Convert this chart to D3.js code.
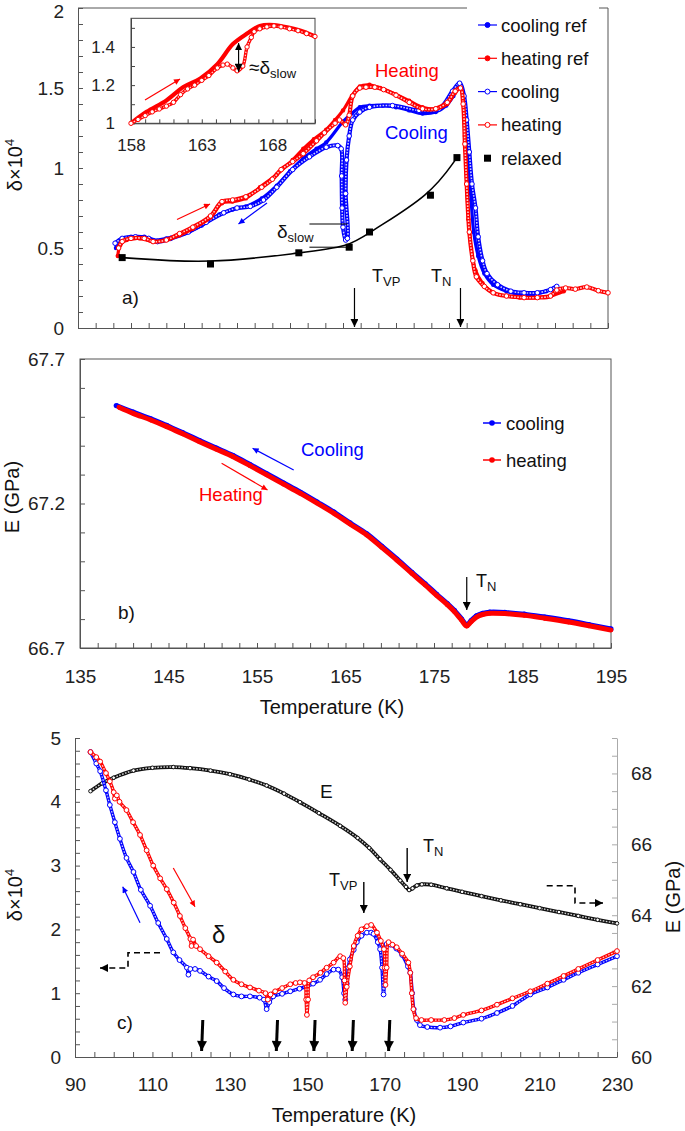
<!DOCTYPE html>
<html lang="en">
<head>
<meta charset="UTF-8">
<title>Internal friction and Young's modulus</title>
<script src="https://d3js.org/d3.v7.min.js"></script>
<style>
  body { margin: 0; background: #fff; }
  svg text { font-family: "Liberation Sans", Arial, sans-serif; }
  .tick text { font-size: 19px; fill: #222; }
</style>
</head>
<body>
<div id="chart"></div>
<script>
// tick labels
const aYLabels = [0, 0.5, 1, 1.5, 2];
const bYLabels = [66.7, 67.2, 67.7];
const bXLabels = [135, 145, 155, 165, 175, 185, 195];
const insetXLabels = [158, 163, 168];
const insetYLabels = [1, 1.2, 1.4];
const cXLabels = [90, 110, 130, 150, 170, 190, 210, 230];
const cYLabels = [0, 1, 2, 3, 4, 5];
const cRLabels = [60, 62, 64, 66, 68];

// ---------- panel a: [T (K), delta x 10^4] ----------
const coolRef = [[139.3,0.50],[139.8,0.55],[141,0.57],[142.5,0.57],[143.5,0.55],[145,0.56],[147,0.59],[149,0.64],[151,0.71],[152.5,0.74],[154,0.76],[155.8,0.81],[157.5,0.89],[159,0.98],[160.5,1.06],[162,1.12],[163.1,1.16],[165,1.29],[166,1.34],[166.9,1.38],[168,1.39],[169.5,1.39],[171,1.38],[172.5,1.36],[174,1.34],[175.5,1.35],[176.7,1.39],[177.5,1.45],[178.2,1.52],[178.6,1.45],[178.9,1.25],[179.2,1.00],[179.5,0.80],[179.8,0.60],[180.3,0.45],[181,0.34],[182,0.27],[183.5,0.23],[185,0.21],[186.5,0.21],[188,0.23],[189.2,0.26]];

const cool = [[139.2,0.53],[140,0.56],[141.5,0.57],[143,0.56],[144,0.54],[145.5,0.56],[147.5,0.60],[149.5,0.66],[151.5,0.72],[153,0.75],[154.5,0.76],[156,0.80],[157.5,0.88],[159.3,0.99],[161.2,1.07],[163.1,1.13],[164.4,1.14],[164.8,1.12],[164.85,0.95],[164.9,0.75],[165.0,0.63],[165.3,0.55],[165.5,0.56],[165.3,0.84],[165.4,1.05],[165.7,1.2],[166.1,1.3],[166.9,1.35],[168,1.38],[170.6,1.39],[173.6,1.36],[175.9,1.37],[177.4,1.48],[178.2,1.53],[178.7,1.45],[179.0,1.30],[179.3,1.10],[179.6,0.90],[180.0,0.75],[180.3,0.57],[180.8,0.42],[181.3,0.34],[182.5,0.27],[184,0.23],[185.5,0.22],[187,0.22],[188.5,0.24],[189.2,0.26]];

const heatRef = [[139.5,0.45],[139.8,0.52],[140.5,0.55],[142,0.56],[143.5,0.54],[145,0.55],[146.5,0.58],[148,0.62],[150,0.69],[151.3,0.78],[152.5,0.79],[154,0.81],[155.6,0.88],[157.5,0.96],[159.3,1.05],[160.5,1.12],[161.7,1.18],[163.1,1.24],[164.1,1.30],[165,1.36],[166,1.45],[166.9,1.51],[168,1.52],[169.2,1.50],[171,1.46],[172.5,1.42],[174,1.38],[175.5,1.37],[176.8,1.40],[177.7,1.47],[178.3,1.50],[178.6,1.42],[178.8,1.20],[179.0,0.90],[179.2,0.68],[179.5,0.50],[180,0.36],[180.8,0.28],[182,0.22],[183.5,0.20],[185,0.19],[187,0.19],[188.5,0.20],[190,0.23]];

const heat = [[139.6,0.50],[140,0.54],[141,0.56],[142.5,0.56],[143.5,0.54],[145,0.55],[146.5,0.59],[148,0.63],[150,0.70],[151.3,0.79],[152.5,0.80],[154,0.82],[155.8,0.88],[157,0.93],[158,0.99],[159.3,1.04],[160.5,1.09],[162,1.17],[162.9,1.22],[164.1,1.28],[164.6,1.30],[165.3,1.27],[165.7,1.33],[166.1,1.45],[166.9,1.50],[167.6,1.505],[168.6,1.505],[169.6,1.49],[171,1.455],[172.5,1.41],[174,1.37],[175.5,1.37],[176.8,1.41],[177.7,1.48],[178.3,1.50],[178.6,1.40],[178.8,1.15],[179.0,0.90],[179.3,0.60],[179.7,0.42],[180.1,0.32],[181,0.26],[182,0.22],[183.5,0.20],[185.5,0.19],[187,0.19],[188.5,0.20],[189.2,0.237],[190.2,0.25],[191.3,0.243],[192.6,0.256],[193.9,0.233],[195,0.22]];

const relaxed = [[140,0.44],[150,0.40],[160,0.47],[165.7,0.505],[168,0.60],[174.9,0.83],[177.9,1.065]];

const insetRef = [[158,1.0],[159.1,1.06],[160.5,1.12],[161.7,1.19],[162.9,1.235],[164.1,1.31],[165.2,1.415],[166.2,1.47],[167.1,1.51],[168.1,1.515],[169.2,1.5],[170.2,1.48],[171,1.455]];
const insetOpen = [[158,1.0],[158.5,1.02],[159,1.04],[159.5,1.06],[160,1.075],[160.5,1.09],[161,1.11],[161.5,1.15],[162,1.18],[162.5,1.2],[163,1.225],[163.5,1.25],[164.1,1.29],[164.5,1.305],[164.8,1.31],[165.2,1.29],[165.5,1.275],[165.9,1.3],[166.2,1.4],[166.5,1.45],[166.7,1.48],[167.1,1.495],[167.6,1.505],[168.1,1.51],[168.6,1.505],[169.2,1.495],[169.8,1.485],[170.4,1.47],[171,1.455]];

// ---------- panel b: [T (K), E (GPa)] ----------
const bCool = [[139.1,67.539],[141,67.516],[143,67.493],[144.8,67.470],[146.6,67.445],[148.5,67.418],[150.4,67.392],[152.3,67.366],[154.2,67.335],[156.1,67.303],[158,67.271],[159.9,67.239],[161.8,67.205],[163.7,67.170],[165.5,67.133],[167.4,67.095],[169.1,67.052],[170.8,67.008],[172.5,66.962],[174,66.922],[175.3,66.886],[176.5,66.854],[177.3,66.830],[178.1,66.801],[178.7,66.780],[179.2,66.795],[179.8,66.811],[180.5,66.820],[181.3,66.824],[183,66.823],[185.2,66.817],[187.5,66.807],[190.2,66.794],[192.5,66.781],[195,66.766]];
const bHeat = [[139.4,67.533],[141,67.512],[143,67.489],[144.8,67.466],[146.6,67.441],[148.5,67.414],[150.4,67.388],[152.3,67.362],[154.2,67.331],[156.1,67.299],[158,67.267],[159.9,67.235],[161.8,67.201],[163.7,67.166],[165.5,67.129],[167.4,67.091],[169.1,67.048],[170.8,67.004],[172.5,66.958],[174,66.918],[175.3,66.882],[176.5,66.850],[177.3,66.826],[178.1,66.797],[178.7,66.776],[179.2,66.791],[179.8,66.807],[180.5,66.816],[181.3,66.820],[183,66.819],[185.2,66.813],[187.5,66.803],[190.2,66.790],[192.5,66.777],[195,66.762]];

// ---------- panel c: wide range ----------
const cE = [[94,67.5],[97,67.72],[100,67.88],[105.1,68.08],[110,68.16],[115.4,68.18],[119.7,68.15],[125,68.08],[130,67.98],[135,67.83],[139.5,67.66],[144,67.43],[148.1,67.19],[153,66.88],[158.5,66.52],[163,66.18],[166,65.9],[168.8,65.58],[171.5,65.28],[174,64.98],[175.5,64.8],[176.3,64.71],[177.2,64.76],[178.3,64.84],[179.6,64.87],[182,64.86],[186,64.76],[190,64.66],[195,64.54],[200,64.42],[205,64.31],[210,64.2],[215,64.09],[220,63.98],[225,63.87],[230,63.77]];

const cCool = [[94,4.78],[95.5,4.6],[96.5,4.48],[98,4.18],[99,3.95],[100.3,3.68],[101.6,3.42],[103.3,3.12],[105.1,2.9],[107,2.62],[109.4,2.37],[111.5,2.1],[113.7,1.85],[115.4,1.64],[117,1.52],[118.9,1.4],[119.3,1.29],[119.8,1.38],[121,1.38],[122.3,1.35],[124.5,1.26],[126.6,1.19],[128.5,1.08],[130.9,0.98],[133,0.95],[135.2,0.95],[137.7,0.93],[138.8,0.9],[139.5,0.75],[140.2,0.86],[141.2,0.95],[143.5,0.99],[145.6,1.03],[148,1.07],[149.9,1.11],[151.5,1.15],[153.3,1.21],[155,1.3],[156.8,1.37],[158,1.37],[159.0,1.25],[159.5,1.0],[159.8,0.9],[160.2,1.15],[160.6,1.4],[161,1.53],[162,1.68],[162.8,1.8],[164,1.9],[165.4,1.95],[166.5,1.95],[167.1,1.93],[168.2,1.8],[168.8,1.69],[169.3,1.4],[169.7,0.98],[170.0,1.3],[170.5,1.77],[171.5,1.76],[173,1.7],[174.5,1.6],[176,1.42],[176.6,1.32],[177.1,1.0],[177.5,0.75],[178.3,0.58],[179.1,0.5],[181,0.47],[184.3,0.46],[187,0.48],[190.3,0.54],[195,0.6],[199,0.69],[203,0.8],[207.6,0.98],[212,1.09],[216.2,1.21],[220,1.32],[225,1.45],[230,1.58]];

const cHeat = [[94,4.78],[95.5,4.7],[96.5,4.63],[98,4.45],[99,4.32],[100,4.15],[100.3,4.05],[100.8,4.1],[101.5,4.0],[103.3,3.87],[105,3.68],[106.8,3.48],[108.5,3.24],[110.2,3.0],[112,2.8],[113.7,2.63],[115.5,2.42],[117.1,2.21],[118.5,2.02],[119.8,1.85],[120.1,1.74],[120.5,1.84],[121.3,1.74],[122.3,1.69],[124.5,1.58],[126.6,1.48],[128.8,1.34],[130.9,1.21],[133,1.14],[135.2,1.09],[137.5,1.04],[139.2,1.0],[139.8,0.9],[140.5,0.98],[141.7,1.03],[143.5,1.08],[145.6,1.14],[147,1.16],[148.1,1.17],[149.3,1.16],[149.7,0.9],[149.9,0.66],[150.2,0.9],[150.5,1.2],[151.5,1.25],[153.4,1.32],[155,1.4],[156.8,1.48],[158.5,1.58],[159.3,1.55],[159.6,1.2],[159.8,0.85],[160.2,1.1],[161,1.42],[162,1.74],[163,1.9],[164,2.0],[165.4,2.05],[166.5,2.07],[168,1.95],[169,1.82],[169.8,1.69],[170.0,1.4],[170.2,1.13],[170.5,1.4],[171,1.8],[172,1.76],[173.1,1.72],[174.5,1.62],[176.1,1.48],[176.6,1.32],[177,1.0],[177.4,0.75],[178.1,0.61],[179.5,0.58],[182,0.58],[185.4,0.58],[188,0.61],[190.3,0.66],[195,0.73],[199,0.82],[203,0.92],[207.6,1.03],[212,1.15],[216.2,1.27],[220,1.38],[225,1.52],[230,1.66]];

const cArrowT = [122.7, 142, 151.7, 161.6, 171];

const BLUE = "#0000ff", RED = "#ff0000", FRAME = "#555";

const svg = d3.select("#chart").append("svg")
    .attr("width", 685).attr("height", 1131)
    .style("background", "#fff");

const defs = svg.append("defs");
function arrowMarker(id, color, w, h, back) {
    defs.append("marker").attr("id", id)
        .attr("viewBox", "0 0 10 10").attr("refX", back ? 0 : 10).attr("refY", 5)
        .attr("markerUnits", "userSpaceOnUse")
        .attr("markerWidth", w).attr("markerHeight", h)
        .attr("orient", "auto")
        .append("path").attr("d", back ? "M10,0 L0,5 L10,10 Z" : "M0,0 L10,5 L0,10 Z").attr("fill", color);
}
arrowMarker("ahBlack", "#000", 10, 8);
arrowMarker("ahBlackRev", "#000", 8, 7, true);
arrowMarker("ahRed", RED, 8, 6);
arrowMarker("ahBlue", BLUE, 8, 6);
arrowMarker("ahThick", "#000", 12, 10);

function arrow(g, x1, y1, x2, y2, color, marker, w) {
    return g.append("line").attr("x1", x1).attr("y1", y1).attr("x2", x2).attr("y2", y2)
        .attr("stroke", color).attr("stroke-width", w || 1.2)
        .attr("marker-end", `url(#${marker})`);
}

function subText(g, x, y, main, sub, size, color, subSize) {
    const t = g.append("text").attr("x", x).attr("y", y)
        .style("font-size", size + "px").attr("fill", color || "#111");
    t.append("tspan").text(main);
    t.append("tspan").attr("dy", size * 0.22).style("font-size", (subSize || size * 0.72) + "px").text(sub);
    return t;
}

function lineGen(xs, ys) {
    return d3.line().x(d => xs(d[0])).y(d => ys(d[1])).curve(d3.curveCatmullRom.alpha(0.5));
}

// dense open circles: coloured band, pale core, markers at the read points
function openSeries(g, data, xs, ys, color, w, r) {
    const line = lineGen(xs, ys);
    g.append("path").datum(data).attr("d", line).attr("fill", "none")
        .attr("stroke", color).attr("stroke-width", w).attr("stroke-linejoin", "round");
    g.append("path").datum(data).attr("d", line).attr("fill", "none")
        .attr("stroke", "#fff").attr("stroke-width", w * 0.38)
        .attr("stroke-dasharray", "1.6 1.4").attr("opacity", 0.8);
    g.append("g").selectAll("circle").data(data).enter().append("circle")
        .attr("cx", d => xs(d[0])).attr("cy", d => ys(d[1])).attr("r", r)
        .attr("fill", "#fff").attr("stroke", color).attr("stroke-width", 1);
}

function filledSeries(g, data, xs, ys, color, w, r) {
    g.append("path").datum(data).attr("d", lineGen(xs, ys)).attr("fill", "none")
        .attr("stroke", color).attr("stroke-width", w).attr("stroke-linejoin", "round");
    g.append("g").selectAll("circle").data(data).enter().append("circle")
        .attr("cx", d => xs(d[0])).attr("cy", d => ys(d[1])).attr("r", r)
        .attr("fill", color);
}

function styleAxis(sel, color) {
    sel.select(".domain").attr("stroke", color);
    sel.selectAll(".tick line").attr("stroke", color);
}

function stepTicks(lo, hi, step) {
    const n = Math.round((hi - lo) / step);
    return d3.range(n + 1).map(i => +(lo + i * step).toFixed(3));
}

function deltaLabel(g, x, y) {
    const t = g.append("text").attr("transform", `translate(${x},${y}) rotate(-90)`)
        .attr("text-anchor", "middle").style("font-size", "20px").attr("fill", "#111");
    t.append("tspan").text("δ×10");
    t.append("tspan").attr("dy", -8).style("font-size", "13px").text("4");
}

// ================= panel a =================
const xA = d3.scaleLinear().domain([135, 195]).range([78, 608]);
const yA = d3.scaleLinear().domain([0, 2]).range([328, 8]);
const gA = svg.append("g");

gA.append("g").attr("transform", "translate(78,0)")
    .call(d3.axisLeft(yA).tickValues(stepTicks(0, 2, 0.1)).tickSize(-5).tickSizeOuter(0).tickPadding(14)
        .tickFormat(d => aYLabels.includes(d) ? d : ""))
    .call(s => styleAxis(s, FRAME))
    .call(s => s.selectAll(".tick text").filter(d => d === 2).attr("dy", "0.5em"));
gA.append("g").attr("transform", "translate(0,328)")
    .call(d3.axisBottom(xA).tickValues(stepTicks(135, 195, 2)).tickSize(-5).tickSizeOuter(0).tickFormat(""))
    .call(s => styleAxis(s, FRAME));
// right side and top (top interrupted by the legend)
gA.append("line").attr("x1", 608).attr("x2", 608).attr("y1", 8).attr("y2", 328).attr("stroke", FRAME);
gA.append("line").attr("x1", 78).attr("x2", 467).attr("y1", 8).attr("y2", 8).attr("stroke", FRAME);
gA.append("line").attr("x1", 599).attr("x2", 608).attr("y1", 8).attr("y2", 8).attr("stroke", FRAME);

deltaLabel(gA, 22, 165);

// relaxed fit and squares
gA.append("path").datum(relaxed)
    .attr("d", d3.line().x(d => xA(d[0])).y(d => yA(d[1])).curve(d3.curveBasis))
    .attr("fill", "none").attr("stroke", "#000").attr("stroke-width", 1.6);

filledSeries(gA, coolRef, xA, yA, BLUE, 3.2, 2.2);
openSeries(gA, cool, xA, yA, BLUE, 4.2, 2.3);
filledSeries(gA, heatRef, xA, yA, RED, 3.2, 2.2);
openSeries(gA, heat, xA, yA, RED, 4.2, 2.3);

gA.selectAll("rect.relaxed").data(relaxed).enter().append("rect").attr("class", "relaxed")
    .attr("x", d => xA(d[0]) - 3.5).attr("y", d => yA(d[1]) - 3.5)
    .attr("width", 7).attr("height", 7).attr("fill", "#000");

// annotations panel a
gA.append("text").attr("x", 375).attr("y", 77).style("font-size", "18.5px").attr("fill", RED).text("Heating");
gA.append("text").attr("x", 385).attr("y", 139).style("font-size", "18.5px").attr("fill", BLUE).text("Cooling");
arrow(gA, 177, 219.5, 210, 204, RED, "ahRed", 1.2);
arrow(gA, 267, 203, 238.5, 224, BLUE, "ahBlue", 1.2);

gA.append("line").attr("x1", xA(161.2)).attr("x2", xA(165.5)).attr("y1", yA(0.65)).attr("y2", yA(0.65)).attr("stroke", "#000");
gA.append("line").attr("x1", xA(161.2)).attr("x2", xA(165.7)).attr("y1", yA(0.505)).attr("y2", yA(0.505)).attr("stroke", "#000");
subText(gA, 277, 238, "δ", "slow", 19, "#111", 13);

subText(gA, 372, 282, "T", "VP", 18, "#111", 13);
subText(gA, 431, 282, "T", "N", 18, "#111", 13);
arrow(gA, xA(166.3), 288, xA(166.3), 327, "#000", "ahBlack", 1.2);
arrow(gA, xA(178.3), 288, xA(178.3), 327, "#000", "ahBlack", 1.2);
gA.append("text").attr("x", 122).attr("y", 304).style("font-size", "19px").attr("fill", "#111").text("a)");

// legend panel a
const legA = gA.append("g");
const legItems = [
    { label: "cooling ref", color: BLUE, kind: "filled" },
    { label: "heating ref", color: RED, kind: "filled" },
    { label: "cooling", color: BLUE, kind: "open" },
    { label: "heating", color: RED, kind: "open" },
    { label: "relaxed", color: "#000", kind: "square" }
];
legItems.forEach((it, i) => {
    const cy = 25 + i * 33.3;
    if (it.kind !== "square") {
        legA.append("line").attr("x1", 478).attr("x2", 497).attr("y1", cy).attr("y2", cy)
            .attr("stroke", it.color).attr("stroke-width", 1.2);
        legA.append("circle").attr("cx", 487.5).attr("cy", cy).attr("r", 2.5)
            .attr("fill", it.kind === "filled" ? it.color : "#fff").attr("stroke", it.color).attr("stroke-width", 1);
    } else {
        legA.append("rect").attr("x", 484).attr("y", cy - 3.5).attr("width", 7).attr("height", 7).attr("fill", "#000");
    }
    legA.append("text").attr("x", 501).attr("y", cy + 6.5).style("font-size", "18.5px").attr("fill", "#111").text(it.label);
});

// inset
const xI = d3.scaleLinear().domain([158, 171]).range([131, 315]);
const yI = d3.scaleLinear().domain([1, 1.55]).range([123.3, 18.3]);
const gI = svg.append("g");
gI.append("rect").attr("x", 131).attr("y", 18.3).attr("width", 184).attr("height", 105)
    .attr("fill", "#fff").attr("stroke", "#444").attr("stroke-width", 1);
gI.append("g").attr("transform", "translate(131,0)")
    .call(d3.axisLeft(yI).tickValues(stepTicks(1, 1.5, 0.1)).tickSize(-4).tickSizeOuter(0).tickPadding(16)
        .tickFormat(d => insetYLabels.includes(d) ? d : ""))
    .call(s => styleAxis(s, "#444"))
    .call(s => s.selectAll(".tick text").style("font-size", "17px"));
gI.append("g").attr("transform", "translate(0,123.3)")
    .call(d3.axisBottom(xI).tickValues(stepTicks(158, 171, 1)).tickSize(-4).tickSizeOuter(0).tickPadding(16)
        .tickFormat(d => insetXLabels.includes(d) ? d : ""))
    .call(s => styleAxis(s, "#444"))
    .call(s => s.selectAll(".tick text").style("font-size", "17px"));
filledSeries(gI, insetRef, xI, yI, RED, 4.2, 0);
openSeries(gI, insetOpen, xI, yI, RED, 3.4, 2.2);
arrow(gI, 145, 100, 180, 79, RED, "ahRed", 1.2);
arrow(gI, xI(165.6), yI(1.42), xI(165.6), yI(1.27), "#000", "ahBlack", 1.2)
    .attr("marker-start", "url(#ahBlackRev)");
subText(gI, 249, 74, "≈δ", "slow", 19, "#111", 13);

// ================= panel b =================
const xB = d3.scaleLinear().domain([135, 195]).range([80, 611]);
const yB = d3.scaleLinear().domain([66.7, 67.7]).range([648, 359]);
const gB = svg.append("g");
gB.append("rect").attr("x", 80).attr("y", 359).attr("width", 531).attr("height", 289)
    .attr("fill", "none").attr("stroke", FRAME);
gB.append("g").attr("transform", "translate(80,0)")
    .call(d3.axisLeft(yB).tickValues(stepTicks(66.7, 67.7, 0.1)).tickSize(-5).tickSizeOuter(0).tickPadding(15)
        .tickFormat(d => bYLabels.includes(d) ? d : ""))
    .call(s => styleAxis(s, FRAME));
gB.append("g").attr("transform", "translate(0,648)")
    .call(d3.axisBottom(xB).tickValues(stepTicks(135, 195, 2)).tickSize(-5).tickSizeOuter(0).tickPadding(22)
        .tickFormat(d => bXLabels.includes(d) ? d : ""))
    .call(s => styleAxis(s, FRAME));
gB.append("text").attr("x", 332).attr("y", 714).attr("text-anchor", "middle")
    .style("font-size", "20px").attr("fill", "#111").text("Temperature (K)");
gB.append("text").attr("transform", "translate(19,497) rotate(-90)").attr("text-anchor", "middle")
    .style("font-size", "20px").attr("fill", "#111").text("E (GPa)");

filledSeries(gB, bCool, xB, yB, BLUE, 5, 2.6);
filledSeries(gB, bHeat, xB, yB, RED, 5, 2.4);

gB.append("text").attr("x", 301).attr("y", 456).style("font-size", "18.5px").attr("fill", BLUE).text("Cooling");
gB.append("text").attr("x", 199).attr("y", 501).style("font-size", "18.5px").attr("fill", RED).text("Heating");
arrow(gB, 293.7, 470, 252.6, 448.3, BLUE, "ahBlue", 1.2);
arrow(gB, 221.6, 463.3, 267.5, 490, RED, "ahRed", 1.2);
arrow(gB, xB(178.7), 577, xB(178.7), 610, "#000", "ahBlack", 1.2);
subText(gB, 476, 587, "T", "N", 18, "#111", 13);
gB.append("text").attr("x", 118).attr("y", 619).style("font-size", "19px").attr("fill", "#111").text("b)");

const legB = [{ label: "cooling", color: BLUE }, { label: "heating", color: RED }];
legB.forEach((it, i) => {
    const cy = 423 + i * 37;
    gB.append("line").attr("x1", 483).attr("x2", 501).attr("y1", cy).attr("y2", cy)
        .attr("stroke", it.color).attr("stroke-width", 1.5);
    gB.append("circle").attr("cx", 492).attr("cy", cy).attr("r", 2.8).attr("fill", it.color);
    gB.append("text").attr("x", 506).attr("y", cy + 7).style("font-size", "18.5px").attr("fill", "#111").text(it.label);
});

// ================= panel c =================
const xC = d3.scaleLinear().domain([90, 230]).range([75, 617]);
const yC = d3.scaleLinear().domain([0, 5]).range([1057, 738]);
const yCR = d3.scaleLinear().domain([60, 69]).range([1057, 738]);
const gC = svg.append("g");

gC.append("g").attr("transform", "translate(75,0)")
    .call(d3.axisLeft(yC).tickValues(stepTicks(0, 5, 0.2)).tickSize(-5).tickSizeOuter(0).tickPadding(14)
        .tickFormat(d => cYLabels.includes(d) ? d : ""))
    .call(s => styleAxis(s, FRAME));
gC.append("g").attr("transform", "translate(617,0)")
    .call(d3.axisRight(yCR).tickValues(stepTicks(60, 69, 0.5)).tickSize(-5).tickSizeOuter(0).tickPadding(14)
        .tickFormat(d => cRLabels.includes(d) ? d : ""))
    .call(s => styleAxis(s, "#aaa"));
gC.append("g").attr("transform", "translate(0,1057)")
    .call(d3.axisBottom(xC).tickValues(stepTicks(90, 230, 5)).tickSize(-5).tickSizeOuter(0).tickPadding(21)
        .tickFormat(d => cXLabels.includes(d) ? d : ""))
    .call(s => styleAxis(s, FRAME));

gC.append("text").attr("x", 344).attr("y", 1122).attr("text-anchor", "middle")
    .style("font-size", "20px").attr("fill", "#111").text("Temperature (K)");
deltaLabel(gC, 22, 895);
gC.append("text").attr("transform", "translate(680,897) rotate(-90)").attr("text-anchor", "middle")
    .style("font-size", "20px").attr("fill", "#111").text("E (GPa)");

openSeries(gC, cE, xC, yCR, "#111", 3.8, 1.8);
openSeries(gC, cCool, xC, yC, BLUE, 3.4, 2.4);
openSeries(gC, cHeat, xC, yC, RED, 3.4, 2.4);

gC.append("text").attr("x", 320).attr("y", 798).style("font-size", "19px").attr("fill", "#111").text("E");
gC.append("text").attr("x", 212).attr("y", 943).style("font-size", "24px").attr("fill", "#111").text("δ");
subText(gC, 423, 852, "T", "N", 18, "#111", 13);
subText(gC, 329, 886, "T", "VP", 18, "#111", 13);
arrow(gC, xC(175.8), 848, xC(175.8), 882, "#000", "ahBlack", 1.4);
arrow(gC, xC(164.6), 882, xC(164.6), 913, "#000", "ahBlack", 1.4);
arrow(gC, 140, 922.7, 122.7, 886.7, BLUE, "ahBlue", 1.2);
arrow(gC, 173.3, 868, 195, 906.7, RED, "ahRed", 1.2);
gC.append("text").attr("x", 117).attr("y", 1029).style("font-size", "19px").attr("fill", "#111").text("c)");

// thick arrows marking anomalies
cArrowT.forEach(t => {
    arrow(gC, xC(t) + 1.2, 1020, xC(t), 1051, "#000", "ahThick", 3);
});

// dashed pointers to the axes
const dash = "6 4";
gC.append("path").attr("d", "M160,952.7 H128 V968 H100")
    .attr("fill", "none").attr("stroke", "#000").attr("stroke-width", 1.6).attr("stroke-dasharray", dash)
    .attr("marker-end", "url(#ahBlack)");
gC.append("path").attr("d", "M546.7,885.7 H575 V903 H603")
    .attr("fill", "none").attr("stroke", "#000").attr("stroke-width", 1.6).attr("stroke-dasharray", dash)
    .attr("marker-end", "url(#ahBlack)");
</script>
</body>
</html>
